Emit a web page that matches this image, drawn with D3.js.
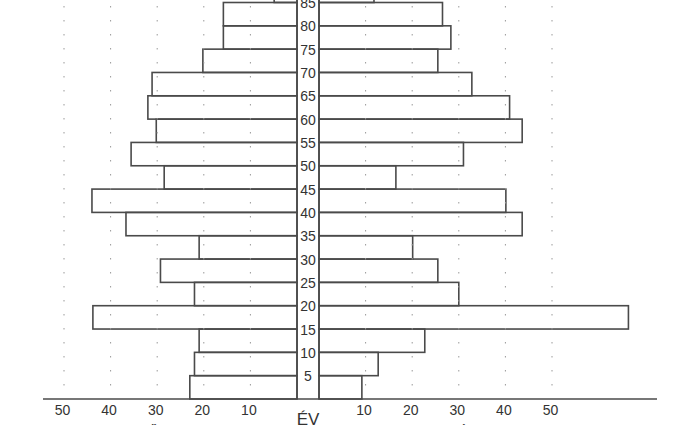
<!DOCTYPE html>
<html>
<head>
<meta charset="utf-8">
<script src="https://cdn.jsdelivr.net/npm/d3@7"></script>
<style>
  body { margin: 0; background: #fff; }
  text { font-family: Arial, "Liberation Sans", sans-serif; fill: #333; }
</style>
</head>
<body>
<div id="pyramid"></div>
<script>
// age groups (lower bound of each 5 year band)
var ages = [0, 5, 10, 15, 20, 25, 30, 35, 40, 45, 50, 55, 60, 65, 70, 75, 80, 85];
// left side values
var leftValues = [23.0, 22.0, 21.0, 43.8, 22.0, 29.3, 21.0, 36.7, 44.0, 28.5, 35.6, 30.2, 32.0, 31.1, 20.2, 15.8, 15.8, 4.9];
// right side values
var rightValues = [9.2, 12.7, 22.7, 66.4, 30.0, 25.5, 20.1, 43.6, 40.1, 16.5, 31.0, 43.6, 40.9, 32.8, 25.5, 28.3, 26.5, 11.8];
var xTicks = [10, 20, 30, 40, 50];
var ageTicks = [5, 10, 15, 20, 25, 30, 35, 40, 45, 50, 55, 60, 65, 70, 75, 80, 85];

var width = 700, height = 425;
var stripLeft = 297, stripRight = 319, baseY = 399;

var svg = d3.select("#pyramid")
  .append("svg")
    .attr("width", width)
    .attr("height", height);

var xLeft = d3.scaleLinear().domain([0, 50]).range([stripLeft, 64]);
var xRight = d3.scaleLinear().domain([0, 50]).range([stripRight, 552]);
var y = d3.scaleLinear().domain([0, 85]).range([baseY, 2.5]);

var data = ages.map(function(a, i) {
  return {age: a, left: leftValues[i], right: rightValues[i]};
});

// left bars
svg.append("g")
  .selectAll("rect")
  .data(data)
  .enter()
  .append("rect")
    .attr("x", function(d) { return xLeft(d.left); })
    .attr("y", function(d) { return y(d.age + 5); })
    .attr("width", function(d) { return stripLeft - xLeft(d.left); })
    .attr("height", function(d) { return y(d.age) - y(d.age + 5); })
    .attr("fill", "none")
    .attr("stroke", "#4a4a4a")
    .attr("stroke-width", 1.6);

// right bars
svg.append("g")
  .selectAll("rect")
  .data(data)
  .enter()
  .append("rect")
    .attr("x", stripRight)
    .attr("y", function(d) { return y(d.age + 5); })
    .attr("width", function(d) { return xRight(d.right) - stripRight; })
    .attr("height", function(d) { return y(d.age) - y(d.age + 5); })
    .attr("fill", "none")
    .attr("stroke", "#4a4a4a")
    .attr("stroke-width", 1.6);

// dotted grid
var grid = svg.append("g");
[xLeft, xRight].forEach(function(sc) {
  grid.selectAll(null)
    .data(xTicks)
    .enter()
    .append("line")
      .attr("x1", function(d) { return sc(d); })
      .attr("x2", function(d) { return sc(d); })
      .attr("y1", 6)
      .attr("y2", baseY - 4)
      .attr("stroke", "#999")
      .attr("stroke-width", 1)
      .attr("stroke-dasharray", "1.5,12.5");
});

// center strip
svg.append("line")
  .attr("x1", stripLeft).attr("x2", stripLeft)
  .attr("y1", 0).attr("y2", baseY)
  .attr("stroke", "#4a4a4a").attr("stroke-width", 1.6);
svg.append("line")
  .attr("x1", stripRight).attr("x2", stripRight)
  .attr("y1", 0).attr("y2", baseY)
  .attr("stroke", "#4a4a4a").attr("stroke-width", 1.6);

// bottom axes
svg.append("line")
  .attr("x1", 43).attr("x2", 657)
  .attr("y1", baseY).attr("y2", baseY)
  .attr("stroke", "#4a4a4a").attr("stroke-width", 1.6);

var axL = svg.append("g")
  .attr("transform", "translate(0," + baseY + ")")
  .call(d3.axisBottom(xLeft).tickValues(xTicks).tickSize(0).tickPadding(6));
var axR = svg.append("g")
  .attr("transform", "translate(0," + baseY + ")")
  .call(d3.axisBottom(xRight).tickValues(xTicks).tickSize(0).tickPadding(6));
[axL, axR].forEach(function(ax) {
  ax.select(".domain").remove();
  ax.selectAll("text")
    .attr("fill", "#333")
    .style("font-size", "14px")
    .attr("transform", "translate(-2,0)");
});

// age labels in the strip
var axAge = svg.append("g")
  .attr("transform", "translate(" + ((stripLeft + stripRight) / 2) + ",0)")
  .call(d3.axisRight(y).tickValues(ageTicks).tickSize(0).tickPadding(0));
axAge.select(".domain").remove();
axAge.selectAll("text")
  .attr("fill", "#333")
  .style("font-size", "14px")
  .attr("text-anchor", "middle")
  .attr("dy", "0.36em")
  .attr("x", 0);
// white box behind labels
axAge.selectAll(".tick").insert("rect", "text")
  .attr("x", -10).attr("y", -7).attr("width", 20).attr("height", 14)
  .attr("fill", "#fff");

// titles
svg.append("text")
  .attr("x", 308).attr("y", 425)
  .attr("text-anchor", "middle")
  .style("font-size", "17px")
  .text("ÉV");
svg.append("text")
  .attr("x", 148).attr("y", 437)
  .attr("text-anchor", "middle")
  .style("font-size", "14px")
  .text("NŐ");
svg.append("text")
  .attr("x", 470).attr("y", 437)
  .attr("text-anchor", "middle")
  .style("font-size", "14px")
  .text("FÉRFI");
</script>
</body>
</html>
